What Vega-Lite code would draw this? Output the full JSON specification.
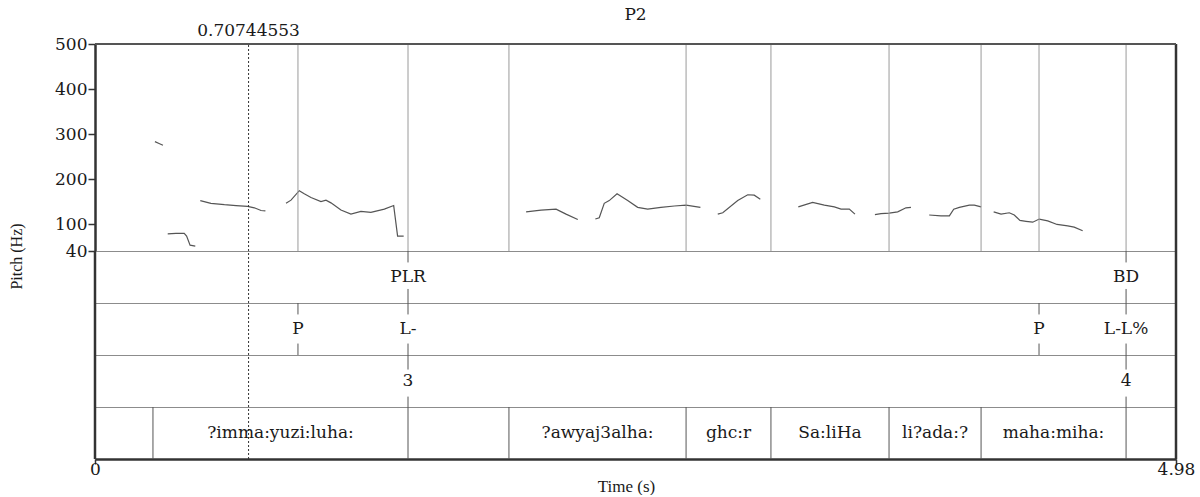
{
  "$schema": "https://vega.github.io/schema/vega-lite/v6.json",
  "background": "white",
  "padding": {"left": 8, "top": 5, "right": 5, "bottom": 0},
  "spacing": 0,
  "bounds": "flush",
  "config": {
    "view": {"stroke": "#8c8c8c", "strokeWidth": 1},
    "font": "DejaVu Serif",
    "text": {"font": "DejaVu Serif", "fontSize": 17, "color": "#1a1a1a"}
  },
  "datasets": {
    "pitch": [
      {"seg": 1, "t": 0.276, "f0": 283}, {"seg": 1, "t": 0.295, "f0": 279}, {"seg": 1, "t": 0.313, "f0": 275},
      {"seg": 2, "t": 0.335, "f0": 78}, {"seg": 2, "t": 0.373, "f0": 79}, {"seg": 2, "t": 0.411, "f0": 79}, {"seg": 2, "t": 0.422, "f0": 73}, {"seg": 2, "t": 0.438, "f0": 53}, {"seg": 2, "t": 0.462, "f0": 51},
      {"seg": 3, "t": 0.485, "f0": 152}, {"seg": 3, "t": 0.534, "f0": 146}, {"seg": 3, "t": 0.596, "f0": 143}, {"seg": 3, "t": 0.65, "f0": 141}, {"seg": 3, "t": 0.703, "f0": 139}, {"seg": 3, "t": 0.734, "f0": 136}, {"seg": 3, "t": 0.765, "f0": 130}, {"seg": 3, "t": 0.785, "f0": 129},
      {"seg": 4, "t": 0.88, "f0": 146}, {"seg": 4, "t": 0.903, "f0": 153}, {"seg": 4, "t": 0.941, "f0": 174}, {"seg": 4, "t": 0.964, "f0": 167}, {"seg": 4, "t": 0.995, "f0": 159}, {"seg": 4, "t": 1.041, "f0": 150}, {"seg": 4, "t": 1.064, "f0": 153}, {"seg": 4, "t": 1.087, "f0": 147}, {"seg": 4, "t": 1.133, "f0": 131}, {"seg": 4, "t": 1.179, "f0": 122}, {"seg": 4, "t": 1.225, "f0": 128}, {"seg": 4, "t": 1.271, "f0": 126}, {"seg": 4, "t": 1.333, "f0": 133}, {"seg": 4, "t": 1.376, "f0": 141}, {"seg": 4, "t": 1.394, "f0": 73}, {"seg": 4, "t": 1.422, "f0": 73},
      {"seg": 5, "t": 1.986, "f0": 127}, {"seg": 5, "t": 2.055, "f0": 131}, {"seg": 5, "t": 2.124, "f0": 133}, {"seg": 5, "t": 2.17, "f0": 122}, {"seg": 5, "t": 2.224, "f0": 110},
      {"seg": 6, "t": 2.305, "f0": 111}, {"seg": 6, "t": 2.323, "f0": 114}, {"seg": 6, "t": 2.346, "f0": 146}, {"seg": 6, "t": 2.369, "f0": 152}, {"seg": 6, "t": 2.405, "f0": 167}, {"seg": 6, "t": 2.454, "f0": 152}, {"seg": 6, "t": 2.5, "f0": 137}, {"seg": 6, "t": 2.546, "f0": 133}, {"seg": 6, "t": 2.607, "f0": 137}, {"seg": 6, "t": 2.669, "f0": 140}, {"seg": 6, "t": 2.723, "f0": 142}, {"seg": 6, "t": 2.789, "f0": 137},
      {"seg": 7, "t": 2.869, "f0": 122}, {"seg": 7, "t": 2.892, "f0": 125}, {"seg": 7, "t": 2.961, "f0": 152}, {"seg": 7, "t": 3.007, "f0": 165}, {"seg": 7, "t": 3.037, "f0": 164}, {"seg": 7, "t": 3.065, "f0": 155},
      {"seg": 8, "t": 3.24, "f0": 138}, {"seg": 8, "t": 3.306, "f0": 148}, {"seg": 8, "t": 3.36, "f0": 142}, {"seg": 8, "t": 3.406, "f0": 138}, {"seg": 8, "t": 3.437, "f0": 133}, {"seg": 8, "t": 3.475, "f0": 133}, {"seg": 8, "t": 3.501, "f0": 122},
      {"seg": 9, "t": 3.593, "f0": 121}, {"seg": 9, "t": 3.621, "f0": 123}, {"seg": 9, "t": 3.659, "f0": 124}, {"seg": 9, "t": 3.698, "f0": 127}, {"seg": 9, "t": 3.736, "f0": 136}, {"seg": 9, "t": 3.759, "f0": 137},
      {"seg": 10, "t": 3.843, "f0": 120}, {"seg": 10, "t": 3.897, "f0": 118}, {"seg": 10, "t": 3.936, "f0": 118}, {"seg": 10, "t": 3.956, "f0": 133}, {"seg": 10, "t": 3.982, "f0": 137}, {"seg": 10, "t": 4.028, "f0": 142}, {"seg": 10, "t": 4.051, "f0": 142}, {"seg": 10, "t": 4.082, "f0": 138},
      {"seg": 11, "t": 4.14, "f0": 127}, {"seg": 11, "t": 4.174, "f0": 122}, {"seg": 11, "t": 4.212, "f0": 125}, {"seg": 11, "t": 4.235, "f0": 120}, {"seg": 11, "t": 4.261, "f0": 108}, {"seg": 11, "t": 4.289, "f0": 106}, {"seg": 11, "t": 4.32, "f0": 104}, {"seg": 11, "t": 4.35, "f0": 111}, {"seg": 11, "t": 4.389, "f0": 107}, {"seg": 11, "t": 4.432, "f0": 99}, {"seg": 11, "t": 4.481, "f0": 96}, {"seg": 11, "t": 4.511, "f0": 93}, {"seg": 11, "t": 4.55, "f0": 85}
    ],
    "pitchLines": [
      {"t": 0.935}, {"t": 1.442}, {"t": 1.907}, {"t": 2.723}, {"t": 3.114}, {"t": 3.658}, {"t": 4.082}, {"t": 4.349}, {"t": 4.75}
    ],
    "cursor": [{"t": 0.70744553, "label": "0.70744553"}],
    "edges": [{"t": 0}, {"t": 4.98}],
    "points": [
      {"tier": "prom", "t": 1.442, "label": "PLR"},
      {"tier": "prom", "t": 4.75, "label": "BD"},
      {"tier": "tones", "t": 0.935, "label": "P"},
      {"tier": "tones", "t": 1.442, "label": "L-"},
      {"tier": "tones", "t": 4.349, "label": "P"},
      {"tier": "tones", "t": 4.75, "label": "L-L%"},
      {"tier": "breaks", "t": 1.442, "label": "3"},
      {"tier": "breaks", "t": 4.75, "label": "4"}
    ],
    "words": [
      {"start": 0, "end": 0.267, "label": ""},
      {"start": 0.267, "end": 1.442, "label": "?imma:yuzi:luha:"},
      {"start": 1.442, "end": 1.907, "label": ""},
      {"start": 1.907, "end": 2.723, "label": "?awyaj3alha:"},
      {"start": 2.723, "end": 3.114, "label": "ghc:r"},
      {"start": 3.114, "end": 3.658, "label": "Sa:liHa"},
      {"start": 3.658, "end": 4.082, "label": "li?ada:?"},
      {"start": 4.082, "end": 4.75, "label": "maha:miha:"},
      {"start": 4.75, "end": 4.98, "label": ""}
    ]
  },
  "vconcat": [
    {
      "width": 1081,
      "height": 207,
      "title": {"text": "P2", "anchor": "middle", "frame": "group", "font": "DejaVu Serif", "fontSize": 17, "fontWeight": "normal", "color": "#1a1a1a", "offset": -2},
      "layer": [
        {
          "data": {"name": "pitch"},
          "mark": {"type": "line", "color": "#555555", "strokeWidth": 1.2},
          "encoding": {
            "x": {"field": "t", "type": "quantitative", "scale": {"domain": [0, 4.98], "nice": false, "zero": false}, "axis": null},
            "y": {
              "field": "f0", "type": "quantitative",
              "scale": {"domain": [40, 500], "nice": false, "zero": false},
              "axis": {
                "values": [40, 100, 200, 300, 400, 500],
                "title": "Pitch (Hz)",
                "grid": false,
                "domainWidth": 2.5, "domainColor": "#333333",
                "tickColor": "#333333", "tickSize": 7, "tickWidth": 1.5,
                "labelFont": "DejaVu Serif", "labelFontSize": 17, "labelColor": "#1a1a1a", "labelPadding": 1, "labelFlush": false,
                "titleFont": "Liberation Serif", "titleFontSize": 16, "titleFontWeight": "normal", "titleColor": "#1a1a1a",
                "titleY": 212, "titlePadding": 30
              }
            },
            "detail": {"field": "seg"}
          }
        },
        {
          "data": {"name": "pitchLines"},
          "mark": {"type": "rule", "color": "#9a9a9a", "strokeWidth": 1},
          "encoding": {
            "x": {"field": "t", "type": "quantitative"},
            "y": {"datum": 40, "type": "quantitative"},
            "y2": {"datum": 500}
          }
        },
        {
          "data": {"name": "cursor"},
          "mark": {"type": "rule", "color": "#333333", "strokeWidth": 1, "strokeDash": [2, 2]},
          "encoding": {
            "x": {"field": "t", "type": "quantitative"},
            "y": {"datum": 40, "type": "quantitative"},
            "y2": {"datum": 500}
          }
        },
        {
          "data": {"name": "cursor"},
          "mark": {"type": "text", "fontSize": 17, "baseline": "bottom", "dy": -4, "align": "center"},
          "encoding": {
            "x": {"field": "t", "type": "quantitative"},
            "y": {"datum": 500, "type": "quantitative"},
            "text": {"field": "label"}
          }
        },
        {
          "data": {"name": "edges"},
          "transform": [{"filter": "datum.t > 0"}],
          "mark": {"type": "rule", "color": "#333333", "strokeWidth": 2.5},
          "encoding": {
            "x": {"field": "t", "type": "quantitative"},
            "y": {"datum": 40, "type": "quantitative"},
            "y2": {"datum": 500}
          }
        },
        {
          "data": {"name": "edges"},
          "transform": [{"filter": "datum.t == 0"}],
          "mark": {"type": "rule", "color": "#555555", "strokeWidth": 2},
          "encoding": {
            "x": {"datum": 0, "type": "quantitative"},
            "x2": {"datum": 4.98},
            "y": {"datum": 500, "type": "quantitative"}
          }
        }
      ]
    },
    {
      "width": 1081,
      "height": 52,
      "layer": [
        {
          "data": {"name": "cursor"},
          "mark": {"type": "rule", "color": "#333333", "strokeWidth": 1, "strokeDash": [2, 2]},
          "encoding": {
            "x": {"field": "t", "type": "quantitative", "scale": {"domain": [0, 4.98], "nice": false, "zero": false}, "axis": null},
            "y": {"datum": 0, "type": "quantitative", "scale": {"domain": [0, 1], "nice": false}, "axis": null},
            "y2": {"datum": 1}
          }
        },
        {
          "data": {"name": "points"},
          "transform": [{"filter": "datum.tier == 'prom'"}],
          "layer": [
            {"mark": {"type": "rule", "color": "#555555"}, "encoding": {"x": {"field": "t", "type": "quantitative", "axis": null}, "y": {"datum": 1, "type": "quantitative", "axis": null}, "y2": {"datum": 0.78}}},
            {"mark": {"type": "rule", "color": "#555555"}, "encoding": {"x": {"field": "t", "type": "quantitative", "axis": null}, "y": {"datum": 0.27, "type": "quantitative", "axis": null}, "y2": {"datum": 0}}},
            {"mark": {"type": "text", "baseline": "middle"}, "encoding": {"x": {"field": "t", "type": "quantitative", "axis": null}, "y": {"datum": 0.5, "type": "quantitative", "axis": null}, "text": {"field": "label"}}}
          ]
        },
        {
          "data": {"name": "edges"},
          "mark": {"type": "rule", "color": "#333333", "strokeWidth": 2.5},
          "encoding": {
            "x": {"field": "t", "type": "quantitative", "axis": null},
            "y": {"datum": 0, "type": "quantitative", "axis": null},
            "y2": {"datum": 1}
          }
        }
      ]
    },
    {
      "width": 1081,
      "height": 52,
      "layer": [
        {
          "data": {"name": "cursor"},
          "mark": {"type": "rule", "color": "#333333", "strokeWidth": 1, "strokeDash": [2, 2]},
          "encoding": {
            "x": {"field": "t", "type": "quantitative", "scale": {"domain": [0, 4.98], "nice": false, "zero": false}, "axis": null},
            "y": {"datum": 0, "type": "quantitative", "scale": {"domain": [0, 1], "nice": false}, "axis": null},
            "y2": {"datum": 1}
          }
        },
        {
          "data": {"name": "points"},
          "transform": [{"filter": "datum.tier == 'tones'"}],
          "layer": [
            {"mark": {"type": "rule", "color": "#555555"}, "encoding": {"x": {"field": "t", "type": "quantitative", "axis": null}, "y": {"datum": 1, "type": "quantitative", "axis": null}, "y2": {"datum": 0.78}}},
            {"mark": {"type": "rule", "color": "#555555"}, "encoding": {"x": {"field": "t", "type": "quantitative", "axis": null}, "y": {"datum": 0.22, "type": "quantitative", "axis": null}, "y2": {"datum": 0}}},
            {"mark": {"type": "text", "baseline": "middle"}, "encoding": {"x": {"field": "t", "type": "quantitative", "axis": null}, "y": {"datum": 0.5, "type": "quantitative", "axis": null}, "text": {"field": "label"}}}
          ]
        },
        {
          "data": {"name": "edges"},
          "mark": {"type": "rule", "color": "#333333", "strokeWidth": 2.5},
          "encoding": {
            "x": {"field": "t", "type": "quantitative", "axis": null},
            "y": {"datum": 0, "type": "quantitative", "axis": null},
            "y2": {"datum": 1}
          }
        }
      ]
    },
    {
      "width": 1081,
      "height": 52,
      "layer": [
        {
          "data": {"name": "cursor"},
          "mark": {"type": "rule", "color": "#333333", "strokeWidth": 1, "strokeDash": [2, 2]},
          "encoding": {
            "x": {"field": "t", "type": "quantitative", "scale": {"domain": [0, 4.98], "nice": false, "zero": false}, "axis": null},
            "y": {"datum": 0, "type": "quantitative", "scale": {"domain": [0, 1], "nice": false}, "axis": null},
            "y2": {"datum": 1}
          }
        },
        {
          "data": {"name": "points"},
          "transform": [{"filter": "datum.tier == 'breaks'"}],
          "layer": [
            {"mark": {"type": "rule", "color": "#555555"}, "encoding": {"x": {"field": "t", "type": "quantitative", "axis": null}, "y": {"datum": 1, "type": "quantitative", "axis": null}, "y2": {"datum": 0.72}}},
            {"mark": {"type": "rule", "color": "#555555"}, "encoding": {"x": {"field": "t", "type": "quantitative", "axis": null}, "y": {"datum": 0.2, "type": "quantitative", "axis": null}, "y2": {"datum": 0}}},
            {"mark": {"type": "text", "baseline": "middle"}, "encoding": {"x": {"field": "t", "type": "quantitative", "axis": null}, "y": {"datum": 0.5, "type": "quantitative", "axis": null}, "text": {"field": "label"}}}
          ]
        },
        {
          "data": {"name": "edges"},
          "mark": {"type": "rule", "color": "#333333", "strokeWidth": 2.5},
          "encoding": {
            "x": {"field": "t", "type": "quantitative", "axis": null},
            "y": {"datum": 0, "type": "quantitative", "axis": null},
            "y2": {"datum": 1}
          }
        }
      ]
    },
    {
      "width": 1081,
      "height": 52,
      "layer": [
        {
          "data": {"name": "words"},
          "transform": [{"filter": "datum.start > 0"}],
          "mark": {"type": "rule", "color": "#555555"},
          "encoding": {
            "x": {
              "field": "start", "type": "quantitative",
              "scale": {"domain": [0, 4.98], "nice": false, "zero": false},
              "axis": {
                "values": [0, 4.98], "format": ".3~f", "title": "Time (s)", "grid": false,
                "domainWidth": 2.5, "domainColor": "#333333",
                "tickColor": "#333333", "tickSize": 5, "tickWidth": 1.5,
                "labelFont": "DejaVu Serif", "labelFontSize": 17, "labelColor": "#1a1a1a", "labelPadding": -3, "labelFlush": false,
                "titleFont": "Liberation Serif", "titleFontSize": 17, "titleFontWeight": "normal", "titleColor": "#1a1a1a", "titlePadding": 1,
                "titleX": 531
              }
            },
            "y": {"datum": 0, "type": "quantitative", "scale": {"domain": [0, 1], "nice": false}, "axis": null},
            "y2": {"datum": 1}
          }
        },
        {
          "data": {"name": "cursor"},
          "mark": {"type": "rule", "color": "#333333", "strokeWidth": 1, "strokeDash": [2, 2]},
          "encoding": {
            "x": {"field": "t", "type": "quantitative"},
            "y": {"datum": 0, "type": "quantitative"},
            "y2": {"datum": 1}
          }
        },
        {
          "data": {"name": "words"},
          "transform": [{"calculate": "(datum.start + datum.end) / 2", "as": "mid"}],
          "mark": {"type": "text", "baseline": "middle"},
          "encoding": {
            "x": {"field": "mid", "type": "quantitative"},
            "y": {"datum": 0.5, "type": "quantitative"},
            "text": {"field": "label"}
          }
        },
        {
          "data": {"name": "edges"},
          "mark": {"type": "rule", "color": "#333333", "strokeWidth": 2.5},
          "encoding": {
            "x": {"field": "t", "type": "quantitative"},
            "y": {"datum": 0, "type": "quantitative"},
            "y2": {"datum": 1}
          }
        }
      ]
    }
  ]
}
